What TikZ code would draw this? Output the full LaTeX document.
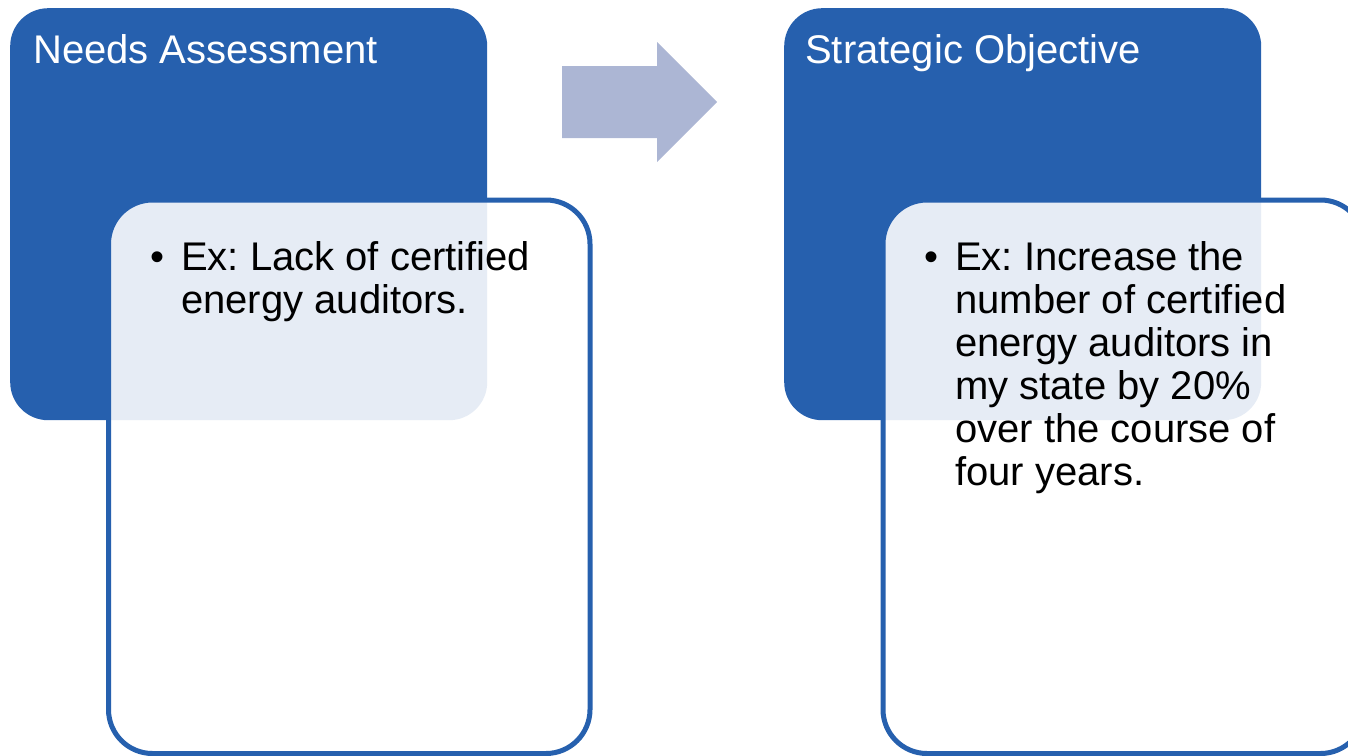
\documentclass[tikz,border=0pt]{standalone}
\usepackage{fontspec}
\setmainfont{Liberation Sans}
\frenchspacing
\definecolor{boxblue}{RGB}{38,96,174}
\definecolor{arrowgrey}{RGB}{172,182,212}
\begin{document}
\begin{tikzpicture}[x=1pt,y=-1pt,
  headbox/.style={fill=boxblue, rounded corners=38pt, inner sep=0pt, anchor=north west,
    minimum width=477pt, minimum height=412pt},
  notebox/.style={draw=boxblue, line width=5pt, fill=white, fill opacity=0.885,
    rounded corners=44pt, inner sep=0pt, anchor=north west,
    minimum width=481.5pt, minimum height=553.5pt},
  heading/.style={text=white, font=\fontsize{40}{48}\selectfont, anchor=base west, inner sep=0pt},
  body/.style={text=black, font=\fontsize{40}{43}\selectfont, anchor=base west, inner sep=0pt},
  flowarrow/.style={fill=arrowgrey}]
\useasboundingbox (0,0) rectangle (1348,755);

% left pair of panels
\node[headbox] (needs) at (10,8) {};
\node[notebox] (needsnote) at (106,197.5) {};

% right pair of panels
\node[headbox] (goal) at (784,8) {};
\node[notebox] (goalnote) at (880.5,197.5) {};

% block arrow between the two panels
\fill[flowarrow] (562,66) -- (657,66) -- (657,42) -- (717,102) -- (657,162)
  -- (657,138) -- (562,138) -- cycle;

% headings
\node[heading] (needstitle) at (33,63) {Needs Assessment};
\node[heading] (goaltitle) at (805,63) {Strategic Objective};

% bullet texts
\node[body] (needsdot) at (150,270) {•};
\node[body] (needstext) at (181,270) {\parbox[t]{420pt}{\raggedright
  Ex: Lack of certified\\energy auditors.}};

\node[body] (goaldot) at (924,270) {•};
\node[body] (goaltext) at (955,270) {\parbox[t]{420pt}{\raggedright
  Ex: Increase the\\number of certified\\energy auditors in\\my state by 20\%\\over the course of\\four years.}};
\end{tikzpicture}
\end{document}
